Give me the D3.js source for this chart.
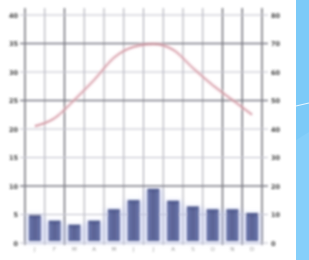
<!DOCTYPE html>
<html><head><meta charset="utf-8">
<script src="https://cdn.jsdelivr.net/npm/d3@7/dist/d3.min.js"></script>
<style>html,body{margin:0;padding:0;background:#fff;overflow:hidden}</style>
</head><body>
<svg id="c" width="309" height="260"></svg>
<script>
const months = ["J","F","M","A","M","J","J","A","S","O","N","D"];
const temperature = [20.5, 21.9, 25.1, 28.6, 32.5, 34.4, 34.9, 33.9, 30.7, 27.7, 25.1, 22.5];
const precipitation = [9.8, 7.8, 6.4, 7.8, 11.8, 15.0, 19.0, 14.8, 12.8, 11.8, 11.8, 10.5];
const tempTicks = [0, 5, 10, 15, 20, 25, 30, 35, 40];
const precTicks = [0, 10, 20, 30, 40, 50, 60, 70, 80];

const svg = d3.select("#c");
const defs = svg.append("defs");
defs.append("filter").attr("id","blur").append("feGaussianBlur").attr("stdDeviation",0.9);
defs.append("filter").attr("id","blur2").append("feGaussianBlur").attr("stdDeviation",2.5);

// blue background on right
svg.append("rect").attr("x",0).attr("y",0).attr("width",309).attr("height",260).attr("fill","#fff");
svg.append("rect").attr("x",296).attr("y",0).attr("width",13).attr("height",260).attr("fill","#7ccaf8");
svg.append("polygon").attr("points","296,140 309,132 309,260 296,260").attr("fill","#86cffa");
svg.append("line").attr("x1",296).attr("y1",106).attr("x2",309).attr("y2",103)
  .attr("stroke","#e8f6ff").attr("stroke-width",1.2);

const g = svg.append("g").attr("filter","url(#blur)");

const x = d3.scaleBand().domain(d3.range(12)).range([25, 262]).paddingInner(0.4).paddingOuter(0.2);
const yT = d3.scaleLinear().domain([0, 40]).range([243, 15]);
const yP = d3.scaleLinear().domain([0, 80]).range([243, 15]);

// vertical grid at month boundaries
const strongV = [0, 2, 10, 11, 12];
g.append("g").selectAll("line").data(d3.range(13)).join("line")
  .attr("x1", i => 25 + i*((262-25)/12)).attr("x2", i => 25 + i*((262-25)/12))
  .attr("y1", 8).attr("y2", 245)
  .attr("stroke", i => strongV.includes(i) ? "#6a6a72" : "#a4a4ae")
  .attr("stroke-width", i => strongV.includes(i) ? 1.4 : 1);

// horizontal grid
const strongH = [35, 25, 10];
g.append("g").selectAll("line").data(tempTicks).join("line")
  .attr("x1", 20).attr("x2", 268)
  .attr("y1", d => yT(d)).attr("y2", d => yT(d))
  .attr("stroke", d => strongH.includes(d) ? "#7a7a84" : "#c0c0cc")
  .attr("stroke-width", d => strongH.includes(d) ? 1.3 : 1);

// bars: halo + core
const bw = x.bandwidth();
svg.append("g").attr("filter","url(#blur2)").selectAll("rect").data(precipitation).join("rect")
  .attr("x", (d,i) => x(i) - 3).attr("width", bw + 6)
  .attr("y", d => yP(d)).attr("height", d => yP(0) - yP(d))
  .attr("fill", "#aab6ee").attr("opacity", 0.45);
g.append("g").selectAll("rect").data(precipitation).join("rect")
  .attr("x", (d,i) => x(i)).attr("width", bw)
  .attr("y", d => yP(d)).attr("height", d => yP(0) - 2 - yP(d))
  .attr("fill", "#2a3468");
g.append("g").selectAll("rect").data(precipitation).join("rect")
  .attr("x", (d,i) => x(i) + bw*0.3).attr("width", bw*0.4)
  .attr("y", d => yP(d) + 2).attr("height", d => Math.max(0, yP(0) - 6 - yP(d)))
  .attr("fill", "#1c2350");

// temperature line
const line = d3.line().x((d,i) => x(i) + bw/2).y(d => yT(d)).curve(d3.curveMonotoneX);
g.append("path").datum(temperature).attr("d", line)
  .attr("fill","none").attr("stroke","#f0c8d2").attr("stroke-width",4).attr("opacity",0.55);
g.append("path").datum(temperature).attr("d", line)
  .attr("fill","none").attr("stroke","#b86874").attr("stroke-width",1);

// axes
const font = "DejaVu Sans";
const axL = d3.axisLeft(yT).tickValues(tempTicks).tickSize(0).tickPadding(0);
const gl = g.append("g").attr("transform","translate(18,0)").call(axL);
gl.select(".domain").remove();
gl.selectAll("text").attr("font-family",font).attr("font-size",6.5).attr("font-weight","bold").attr("fill","#444");

const axR = d3.axisRight(yP).tickValues(precTicks).tickSize(0).tickPadding(0);
const gr = g.append("g").attr("transform","translate(271,0)").call(axR);
gr.select(".domain").remove();
gr.selectAll("text").attr("font-family",font).attr("font-size",6.5).attr("font-weight","bold").attr("fill","#444");

const axB = d3.axisBottom(x).tickFormat(i => months[i]).tickSize(0).tickPadding(0);
const gb = g.append("g").attr("transform","translate(0,247)").call(axB);
gb.select(".domain").remove();
gb.selectAll("text").attr("font-family",font).attr("font-size",5.5).attr("fill","#999");
</script>
</body></html>
